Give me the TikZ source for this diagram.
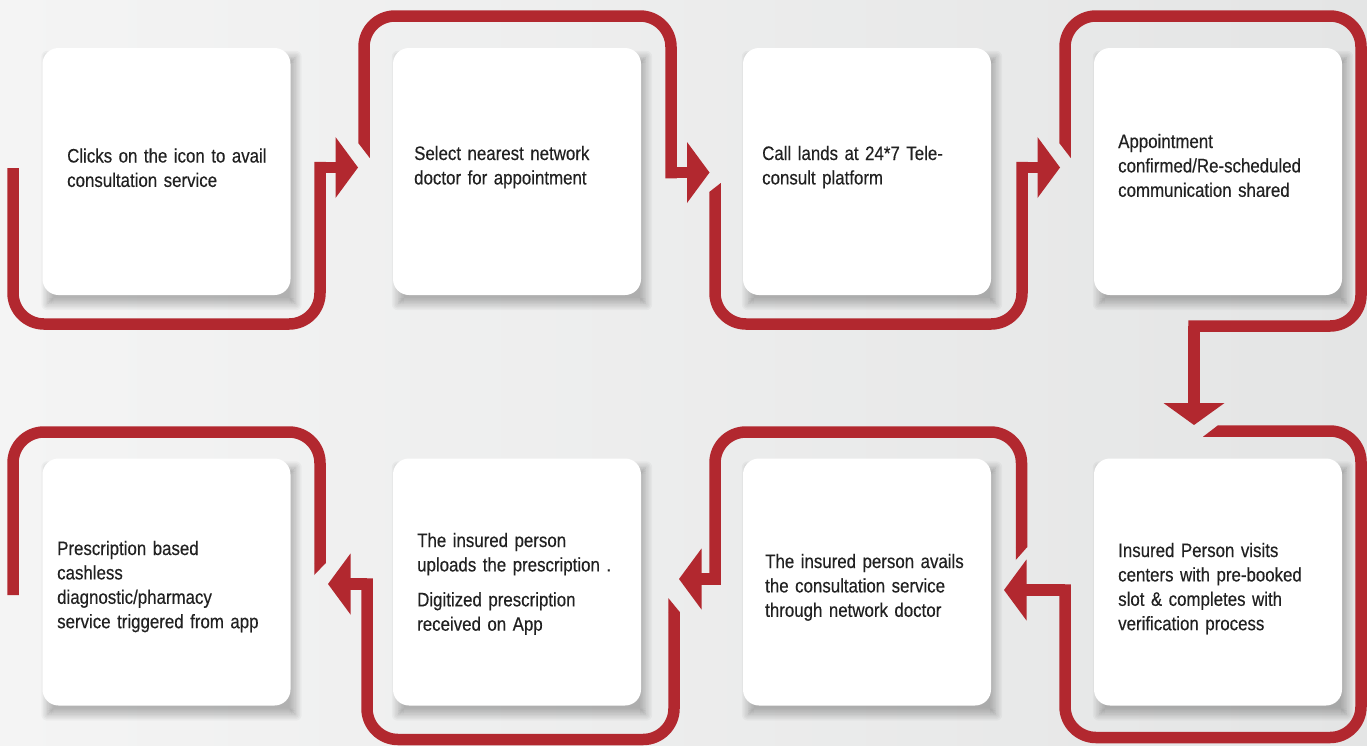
\documentclass[tikz,border=0pt]{standalone}
\usepackage{fontspec}
\setmainfont{Liberation Sans}[FakeStretch=0.865, FakeBold=0.35]
\usetikzlibrary{calc}

\definecolor{ribbonred}{HTML}{B2282F}
\definecolor{ink}{HTML}{212121}
\definecolor{bgA}{HTML}{F4F4F4}
\definecolor{bgB}{HTML}{E4E5E5}

\pgfdeclarelayer{under}
\pgfsetlayers{under,main}

\tikzset{
  card/.style={fill=white, draw=none, rounded corners=16pt,
    minimum width=248pt, minimum height=247pt, inner sep=0pt},
  caption/.style={anchor=base west, align=left, text width=235pt,
    inner sep=0pt, text=ink, font=\fontsize{19.5}{24.4}\selectfont},
  ribbon/.style={draw=ribbonred, line width=11.5pt, line cap=butt},
  loopband/.style={ribbon, rounded corners=31pt},
  tip right/.pic={\fill[ribbonred] (-22.5,-30.5) -- (0,0) -- (-22.5,30.5) -- cycle;},
  tip left/.pic={\fill[ribbonred] (22.5,-30.5) -- (0,0) -- (22.5,30.5) -- cycle;},
  tip down/.pic={\fill[ribbonred] (-30.5,-22) -- (0,0) -- (30.5,-22) -- cycle;},
}

\begin{document}
\begin{tikzpicture}[x=1pt, y=-1pt]
  % canvas
  \useasboundingbox (0,0) rectangle (1367,745);
  \begin{pgfonlayer}{under}
    \shade[left color=bgA, right color=bgB] (0,0) rectangle (1367,745);
  \end{pgfonlayer}

  % step cards
  \node[card] (b1) at (166.5,171.5) {};
  \node[card] (b2) at (517,171.5) {};
  \node[card] (b3) at (867,171.5) {};
  \node[card] (b4) at (1218,171.5) {};
  \node[card] (b5) at (1218,582) {};
  \node[card] (b6) at (867,582) {};
  \node[card] (b7) at (517,582) {};
  \node[card] (b8) at (166.5,582) {};

  % soft drop shadow below and right of every card
  \begin{pgfonlayer}{under}
    \foreach \b in {b1,b2,b3,b4,b5,b6,b7,b8}
      \foreach \s [evaluate=\s as \r using 16+\s] in {-6,-4.5,...,6.1}
        \fill[black, fill opacity=0.03, rounded corners=\r pt]
          ($(\b.north west)+(5-\s,9-\s)$) rectangle ($(\b.south east)+(5+\s,9+\s)$);
  \end{pgfonlayer}

  % card texts
  \node[caption] (t1) at (67,162.5) {Clicks on the icon to avail\\consultation service};
  \node[caption] (t2) at (414,160) {Select nearest network\\doctor for appointment};
  \node[caption] (t3) at (762,160) {Call lands at 24*7 Tele-\\consult platform};
  \node[caption] (t4) at (1118,148) {Appointment\\confirmed/Re-scheduled\\communication shared};
  \node[caption] (t5) at (1118,557) {Insured Person visits\\centers with pre-booked\\slot \& completes with\\verification process};
  \node[caption] (t6) at (765,568) {The insured person avails\\the consultation service\\through network doctor};
  \node[caption] (t7) at (417,547) {The insured person\\uploads the prescription .\\[10.5pt]Digitized prescription\\received on App};
  \node[caption] (t8) at (57,555) {Prescription based\\cashless\\diagnostic/pharmacy\\service triggered from app};

  % ribbon 1: around card 1
  \draw[loopband] (13,168) -- (13,324) -- (320,324) -- (320,161.75);
  \draw[ribbon] (320,167.5) -- (337,167.5);
  \pic at (358,167.5) {tip right};

  % ribbon 2: over card 2
  \fill[ribbonred] (358.25,143) -- (369.75,143) -- (369.75,158) -- cycle;
  \draw[loopband] (364,143) -- (364,16) -- (671,16) -- (671,178.25);
  \draw[ribbon] (671,172.5) -- (688,172.5);
  \pic at (709.5,172.5) {tip right};

  % ribbon 3: under card 3
  \fill[ribbonred] (709.25,192) -- (720.75,192) -- (720.75,183) -- cycle;
  \draw[loopband] (715,192) -- (715,324) -- (1022,324) -- (1022,161.75);
  \draw[ribbon] (1022,167.5) -- (1038,167.5);
  \pic at (1060,167.5) {tip right};

  % ribbon 4: over card 4 and down to the second row
  \fill[ribbonred] (1059.25,143) -- (1070.75,143) -- (1070.75,158) -- cycle;
  \draw[loopband] (1065,143) -- (1065,16) -- (1361,16) -- (1361,326) -- (1188.25,326);
  \draw[ribbon] (1194,326) -- (1194,404);
  \pic at (1194,425) {tip down};

  % ribbon 5: around card 5
  \fill[ribbonred] (1218,425.25) -- (1218,436.75) -- (1203,436.75) -- cycle;
  \draw[loopband] (1218,431) -- (1361,431) -- (1361,737.5) -- (1065,737.5) -- (1065,584.25);
  \draw[ribbon] (1065,590) -- (1026,590);
  \pic at (1004,590) {tip left};

  % ribbon 6: over card 6
  \fill[ribbonred] (1015.75,547) -- (1027.25,547) -- (1015.75,560) -- cycle;
  \draw[loopband] (1021.5,547) -- (1021.5,432) -- (715,432) -- (715,584.75);
  \draw[ribbon] (715,579) -- (701,579);
  \pic at (679,579) {tip left};

  % ribbon 7: under card 7
  \fill[ribbonred] (668.25,612) -- (679.75,612) -- (668.25,598) -- cycle;
  \draw[loopband] (674,612) -- (674,739.5) -- (367,739.5) -- (367,578.25);
  \draw[ribbon] (367,584) -- (350,584);
  \pic at (328,584) {tip left};

  % ribbon 8: over card 8, open end
  \fill[ribbonred] (314.25,563) -- (325.75,563) -- (314.25,575) -- cycle;
  \draw[loopband] (320,563) -- (320,432) -- (13,432) -- (13,595);
\end{tikzpicture}
\end{document}
